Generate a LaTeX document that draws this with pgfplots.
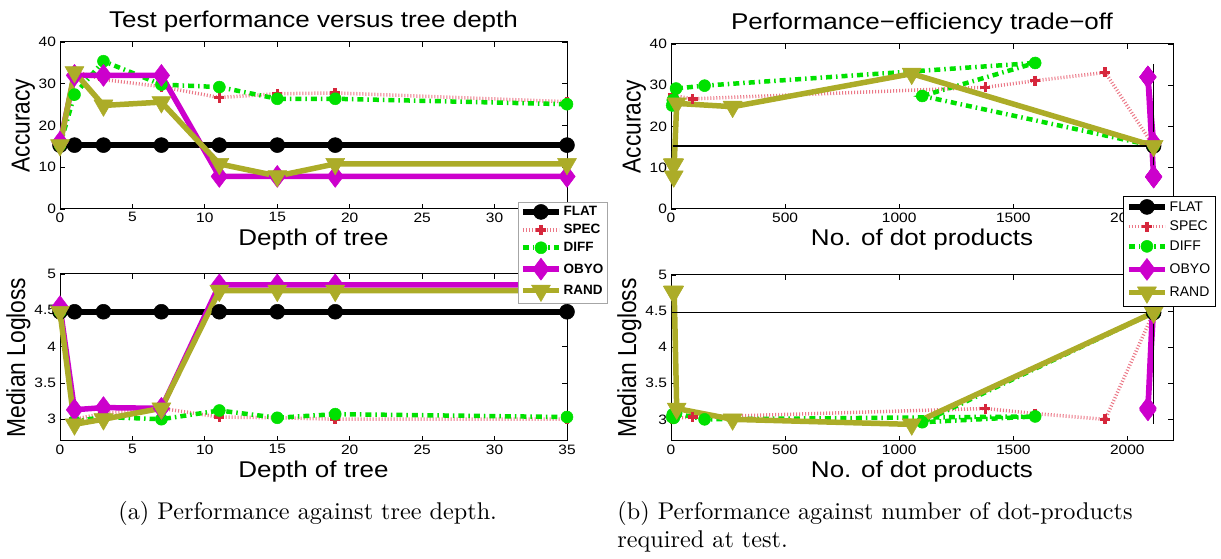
\documentclass[border=0pt]{standalone}
\usepackage{fontspec}
\setmainfont{Liberation Sans}
\usepackage{pgfplots}
\pgfplotsset{compat=1.18}
\definecolor{cspec}{RGB}{214,39,60}
\definecolor{cspecl}{RGB}{235,120,135}
\definecolor{cdiff}{RGB}{0,225,0}
\definecolor{cobyo}{RGB}{204,0,204}
\definecolor{crand}{RGB}{172,172,40}
\newcommand{\capfont}{\fontfamily{lmr}\fontsize{10}{12}\selectfont}
\pgfplotsset{
 flat/.style={black, line width=5.5pt, line join=round, mark=*, mark size=7.5pt, mark options={solid, fill=black, line width=0.5pt}},
 spec/.style={cspecl, line width=3.5pt, dash pattern=on 1pt off 2pt, mark=+, mark size=5pt, mark options={solid, draw=cspec, line width=3.5pt}},
 diff/.style={cdiff, line width=4.5pt, dash pattern=on 6pt off 4pt on 1.5pt off 4pt, mark=*, mark size=6pt, mark options={solid, fill=cdiff, draw=cdiff, line width=0.5pt}},
 obyo/.style={cobyo, line width=5.5pt, line join=round, mark=diamond*, mark size=11pt, mark options={solid, fill=cobyo, line width=0.5pt}},
 rand/.style={crand, line width=5.5pt, line join=round, mark=triangle*, mark size=11pt, mark options={solid, rotate=180, fill=crand, line width=0.5pt}},
 myaxis/.style={scale only axis, clip=false, axis line style={line width=1pt}, tick style={line width=0.8pt, black}, major tick length=5pt, tick align=inside,
   ticklabel style={font=\fontsize{13.6}{14}\selectfont, xscale=1.14},
   xlabel style={font=\fontsize{22.8}{25}\selectfont, xscale=1.14},
   ylabel style={font=\fontsize{22.8}{25}\selectfont, yscale=1.14},
   title style={font=\fontsize{22.8}{25}\selectfont, xscale=1.14},
   ylabel shift=-4pt,
   /pgf/number format/assume math mode=true, /pgf/number format/set thousands separator={}, scaled ticks=false,
   legend cell align=left,
   legend image code/.code={\draw[mark repeat=2,mark phase=2,##1] plot coordinates {(0pt,0pt) (18pt,0pt) (36pt,0pt)};}},
}
\begin{document}
\begin{tikzpicture}[x=1pt,y=1pt]
\useasboundingbox (0,0) rectangle (1221,559);
% ---------- top left ----------
\begin{axis}[myaxis, at={(60pt,350pt)}, anchor=south west, width=507pt, height=167pt,
  xmin=0, xmax=35, ymin=0, ymax=40, xtick={0,5,...,35}, xticklabels={0,5,10,15,20,25,30,{}}, ytick={0,10,...,40},
  title={Test performance versus tree depth}, xlabel={Depth of tree}, ylabel={Accuracy}]
\addplot[flat] coordinates {(0,15.3) (1,15.3) (3,15.3) (7,15.3) (11,15.3) (15,15.3) (19,15.3) (35,15.3)};
\addplot[spec] coordinates {(0,15.3) (1,33) (3,31) (7,29.3) (11,26.7) (15,27.6) (19,27.8) (35,25.7)};
\addplot[diff] coordinates {(0,15.3) (1,27.4) (3,35.4) (7,29.8) (11,29.2) (15,26.4) (19,26.4) (35,25.1)};
\addplot[obyo] coordinates {(0,16) (1,32) (3,32) (7,32) (11,7.8) (15,7.8) (19,7.8) (35,7.8)};
\addplot[rand] coordinates {(0,15.3) (1,32.8) (3,24.8) (7,25.6) (11,10.8) (15,7.9) (19,10.8) (35,10.8)};
\end{axis}
% ---------- bottom left ----------
\begin{axis}[myaxis, at={(60pt,118pt)}, anchor=south west, width=507pt, height=167pt,
  xmin=0, xmax=35, ymin=2.7, ymax=5, xtick={0,5,...,35}, ytick={3,3.5,4,4.5,5},
  xlabel={Depth of tree}, ylabel={Median Logloss},
  legend style={at={(0.903,1.431)}, anchor=north west, font=\fontsize{13.5}{15}\bfseries\selectfont, draw=gray!70, line width=0.8pt, fill=white, row sep=3pt, inner sep=2pt}]
\addplot[flat] coordinates {(0,4.48) (1,4.48) (3,4.48) (7,4.48) (11,4.48) (15,4.48) (19,4.48) (35,4.48)};
\addplot[spec] coordinates {(0,4.48) (1,3.0) (3,3.08) (7,3.15) (11,3.03) (15,3.02) (19,3.0) (35,3.0)};
\addplot[diff] coordinates {(0,4.48) (1,2.97) (3,3.03) (7,3.0) (11,3.12) (15,3.02) (19,3.07) (35,3.03)};
\addplot[obyo] coordinates {(0,4.55) (1,3.13) (3,3.16) (7,3.15) (11,4.85) (15,4.85) (19,4.85) (35,4.85)};
\addplot[rand] coordinates {(0,4.48) (1,2.93) (3,3.0) (7,3.15) (11,4.77) (15,4.77) (19,4.77) (35,4.77)};
\legend{FLAT,SPEC,DIFF,OBYO,RAND}
\end{axis}
% ---------- top right ----------
\begin{axis}[myaxis, at={(671pt,350pt)}, anchor=south west, width=502pt, height=165pt,
  xmin=0, xmax=2200, ymin=0, ymax=40, xtick={0,500,...,2000}, ytick={0,10,...,40},
  title={Performance−efficiency trade−off}, xlabel={No. of dot products}, ylabel={Accuracy}]
\addplot[flat] coordinates {(2115,15.3)};
\addplot[spec] coordinates {(2115,15.3) (1903,33.1) (1596,31.1) (1378,29.5) (95,26.7) (10,27.5) (8,27.8) (5,25.7)};
\addplot[diff] coordinates {(2115,15.3) (1101,27.4) (1596,35.4) (147,29.9) (22,29.2) (12,26.4) (8,26.4) (5,25.1)};
\addplot[obyo] coordinates {(2115,16) (2090,32) (2090,32) (2090,32) (2115,7.8) (2115,7.8) (2115,7.8) (2115,7.8)};
\addplot[rand] coordinates {(2115,15.3) (1055,32.8) (270,24.8) (25,25.6) (14,10.8) (12,7.9) (10,10.8) (8,10.8)};
\addplot[black, line width=1.5pt, forget plot] coordinates {(10,15.3) (2115,15.3)};
\addplot[black, line width=1.5pt, forget plot] coordinates {(2115,35.2) (2115,6.7)};
\end{axis}
% ---------- bottom right ----------
\begin{axis}[myaxis, at={(671pt,118pt)}, anchor=south west, width=502pt, height=166pt,
  xmin=0, xmax=2200, ymin=2.7, ymax=5, xtick={0,500,...,2000}, ytick={3,3.5,4,4.5,5},
  xlabel={No. of dot products}, ylabel={Median Logloss},
  legend style={at={(0.900,1.476)}, anchor=north west, font=\fontsize{14}{15}\selectfont, draw=black, line width=0.8pt, fill=white, row sep=4.5pt, inner sep=3pt}]
\addplot[flat] coordinates {(2115,4.48)};
\addplot[spec] coordinates {(2115,4.48) (1903,3.0) (1596,3.08) (1378,3.15) (95,3.03) (10,3.02) (8,3.0) (5,3.0)};
\addplot[diff] coordinates {(2115,4.48) (1101,2.96) (1596,3.04) (147,3.0) (22,3.08) (12,3.02) (8,3.07) (5,3.03)};
\addplot[obyo] coordinates {(2115,4.55) (2090,3.13) (2090,3.16) (2090,3.15) (2115,4.85) (2115,4.85) (2115,4.85) (2115,4.85)};
\addplot[rand] coordinates {(2115,4.48) (1055,2.93) (270,3.0) (25,3.15) (14,4.77) (12,4.77) (10,4.77) (8,4.77)};
\addplot[black, line width=1.5pt, forget plot] coordinates {(5,4.48) (2115,4.48)};
\addplot[black, line width=1.5pt, forget plot] coordinates {(2115,4.48) (2115,2.93)};
\legend{FLAT,SPEC,DIFF,OBYO,RAND}
\end{axis}
% ---------- captions ----------
\node[anchor=base west, inner sep=0, scale=2.42] at (118,39) {\capfont (a) Performance against tree depth.};
\node[anchor=base west, inner sep=0, scale=2.42] at (617,39) {\capfont (b) Performance against number of dot-products};
\node[anchor=base west, inner sep=0, scale=2.42] at (617,11) {\capfont required at test.};
\end{tikzpicture}
\end{document}
